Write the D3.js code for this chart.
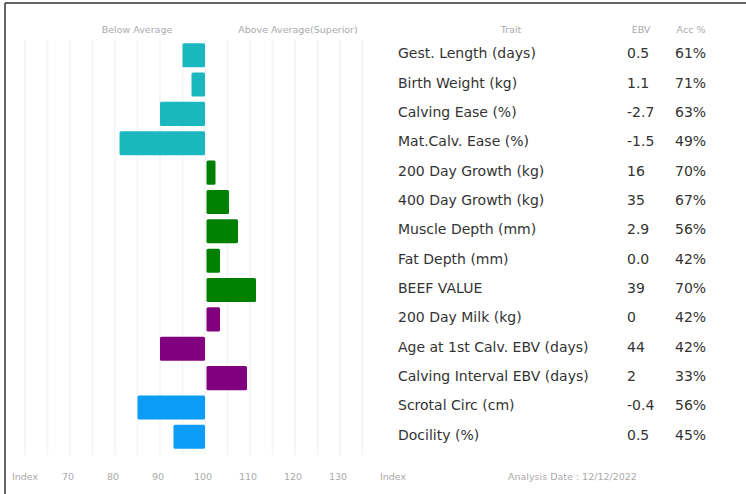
<!DOCTYPE html>
<html><head><meta charset="utf-8">
<script src="https://cdn.jsdelivr.net/npm/d3@7/dist/d3.min.js"></script>
<style>html,body{margin:0;padding:0;background:#fff;}svg{display:block;font-family:"DejaVu Sans",sans-serif;}</style>
</head><body>
<svg id="chart" width="746" height="494"></svg>
<script>
const traits = ["Gest. Length (days)","Birth Weight (kg)","Calving Ease (%)","Mat.Calv. Ease (%)","200 Day Growth (kg)","400 Day Growth (kg)","Muscle Depth (mm)","Fat Depth (mm)","BEEF VALUE","200 Day Milk (kg)","Age at 1st Calv. EBV (days)","Calving Interval EBV (days)","Scrotal Circ (cm)","Docility (%)"];
const ebv = ["0.5","1.1","-2.7","-1.5","16","35","2.9","0.0","39","0","44","2","-0.4","0.5"];
const acc = ["61%","71%","63%","49%","70%","67%","56%","42%","70%","42%","42%","33%","56%","45%"];
const indexValues = [95,97,90,81,102,105,107,103,111,103,90,109,85,93];
const groups = ["calving","calving","calving","calving","growth","growth","growth","growth","growth","maternal","maternal","maternal","other","other"];
const groupNames = ["calving","growth","maternal","other"];
const groupColors = ["#1bb7bf","#008000","#800080","#0a9cf7"];
const tickLabels = [70,80,90,100,110,120,130];
const gridValues = [60,65,70,75,80,85,90,95,100,105,110,115,120,125,130,135];

const svg = d3.select("#chart");
const x = d3.scaleLinear().domain([60,140]).range([25,385]);
const y = d3.scaleBand().domain(traits).range([40.5,451.5]).paddingInner(0.18).paddingOuter(0.09);
const color = d3.scaleOrdinal().domain(groupNames).range(groupColors);

// border
svg.append("line").attr("x1",5).attr("x2",746).attr("y1",3).attr("y2",3).attr("stroke","#333").attr("stroke-width",1.5);
svg.append("line").attr("x1",5).attr("x2",5).attr("y1",3).attr("y2",494).attr("stroke","#333").attr("stroke-width",1.5);

// grid
svg.append("g").selectAll("line").data(gridValues).join("line")
  .attr("x1",d=>x(d)).attr("x2",d=>x(d)).attr("y1",40).attr("y2",455)
  .attr("stroke","#f3f3f3").attr("stroke-width",1.5);

// bars
const base = x(100);
svg.append("g").selectAll("rect").data(traits).join("rect")
  .attr("x",(d,i)=> indexValues[i] < 100 ? x(indexValues[i]) : base+1.5)
  .attr("y",d=>y(d))
  .attr("width",(d,i)=> Math.abs(x(indexValues[i]) - base))
  .attr("height",y.bandwidth())
  .attr("rx",1.5)
  .attr("fill",(d,i)=>color(groups[i]));

const hdr = {fill:"#aaa","font-size":"9.5px"};
function txt(g, t, xx, yy, anchor, attrs){
  const e = g.append("text").attr("x",xx).attr("y",yy).attr("text-anchor",anchor).attr("dominant-baseline","middle").text(t);
  Object.entries(attrs).forEach(([k,v])=>e.attr(k,v));
  return e;
}
txt(svg,"Below Average",137,30,"middle",hdr);
txt(svg,"Above Average(Superior)",298,30,"middle",hdr);
txt(svg,"Trait",511,30,"middle",hdr);
txt(svg,"EBV",641,30,"middle",hdr);
txt(svg,"Acc %",691,30,"middle",hdr);

// table rows
const rows = svg.append("g");
const rowStyle = {fill:"#333","font-size":"14px"};
traits.forEach((t,i)=>{
  const cy = y(t) + y.bandwidth()/2 - 1;
  txt(rows,t,398,cy,"start",rowStyle);
  txt(rows,ebv[i],627,cy,"start",rowStyle);
  txt(rows,acc[i],675,cy,"start",rowStyle);
});

// bottom axis
const axis = svg.append("g");
txt(axis,"Index",12,477,"start",hdr);
axis.selectAll("text.tick").data(tickLabels).join("text").attr("class","tick")
  .attr("x",d=>x(d)-2).attr("y",477).attr("text-anchor","middle").attr("dominant-baseline","middle")
  .attr("fill","#aaa").attr("font-size","9.5px").text(d=>d);
txt(axis,"Index",380,477,"start",hdr);
txt(axis,"Analysis Date : 12/12/2022",508,477,"start",hdr);
</script>
</body></html>
